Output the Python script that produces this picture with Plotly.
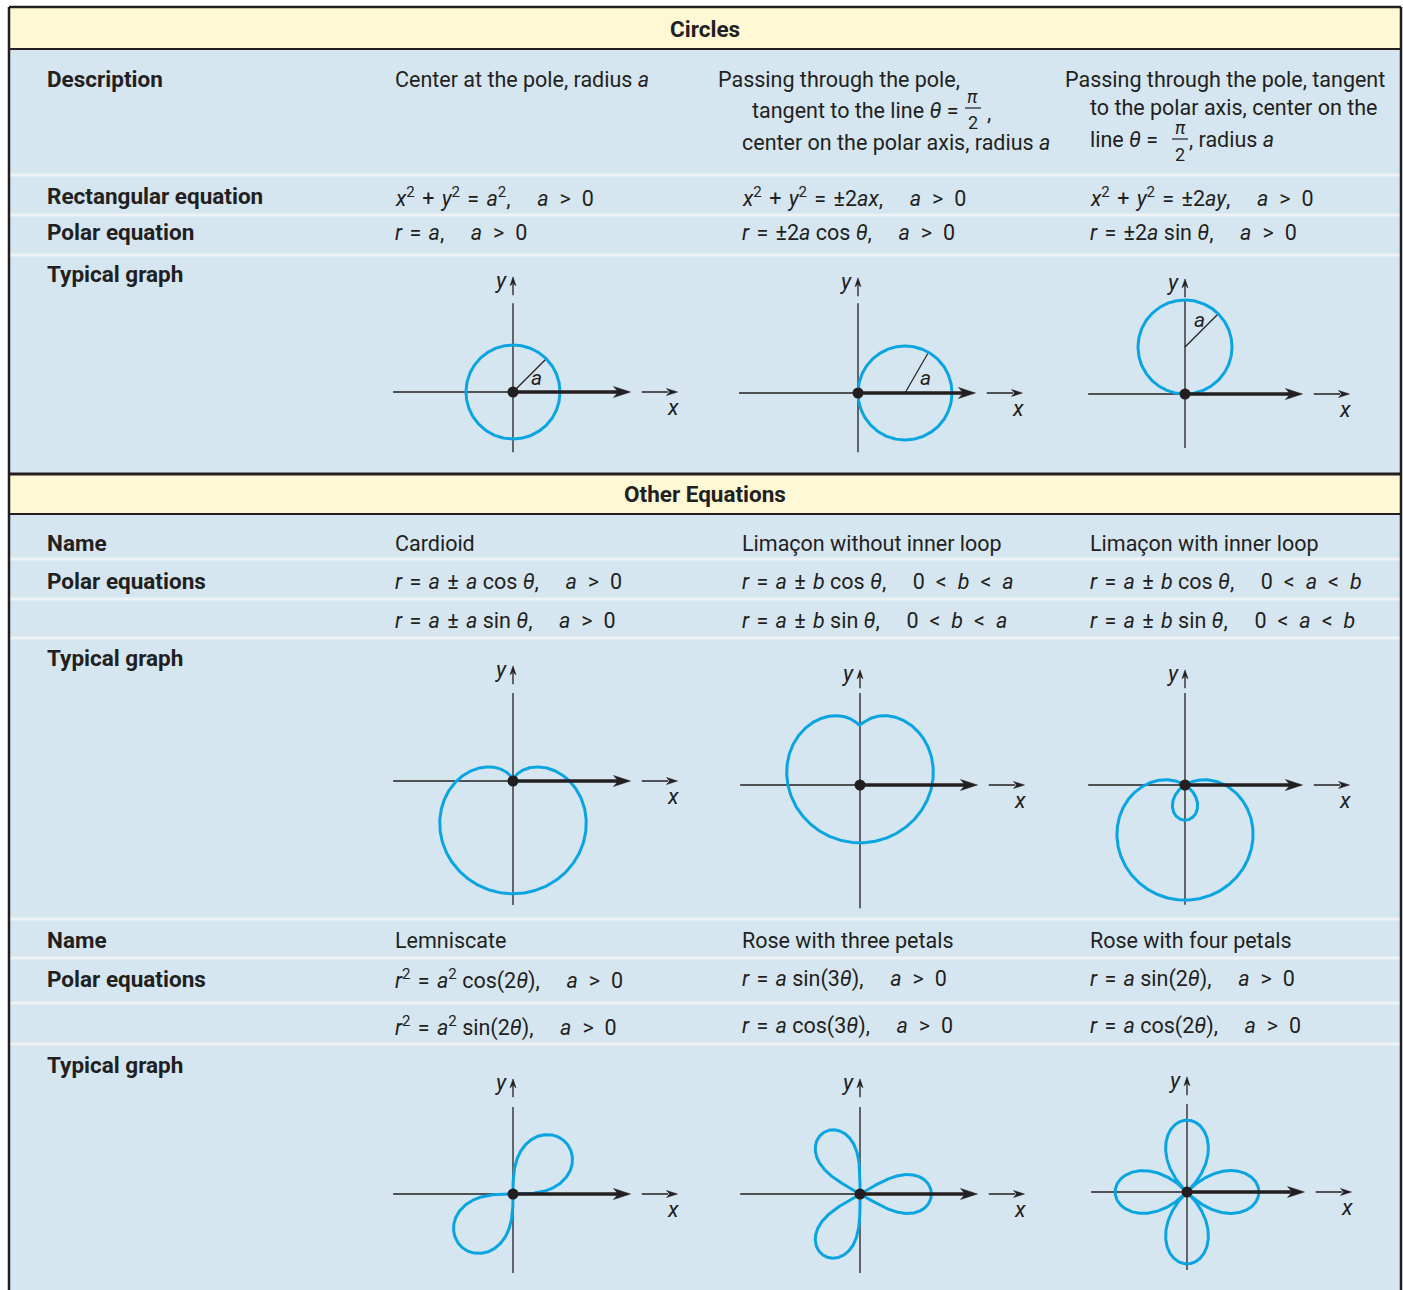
import numpy as np
import plotly.graph_objects as go

W, H = 1403, 1290
FONT = "Roboto"
TXT = "#231f20"
BLUE_BG = "#d5e6f0"
YELLOW = "#fef8d5"
SEP = "#eef2f4"
CURVE = "#0aa5e1"
S = 47.0          # pixels per graph unit
NB = "\u00a0"
GAP = NB * 5
T = "\u2004"      # small math space
E = "\u2002"      # wider math space
TS, BS = 21.5, 22.5

# ------------------------------------------------------------------ data
section_titles = ["Circles", "Other Equations"]
circle_labels = ["Description", "Rectangular equation", "Polar equation", "Typical graph"]
other_labels = ["Name", "Polar equations", "Typical graph"]

desc_col1 = "Center at the pole, radius <i>a</i>"
desc_col2 = ["Passing through the pole,", "tangent to the line <i>θ</i> =", "center on the polar axis, radius <i>a</i>"]
desc_col3 = ["Passing through the pole, tangent", "to the polar axis, center on the", "line <i>θ</i> =", ", radius <i>a</i>"]

A = "<i>a</i>"
B = "<i>b</i>"
R = "<i>r</i>"
TH = "<i>θ</i>"
POS = A + E + "&gt;" + E + "0"
rect_eqs = [
    "<i>x</i><sup>2</sup>" + T + "+" + T + "<i>y</i><sup>2</sup>" + T + "=" + T + A + "<sup>2</sup>," + GAP + POS,
    "<i>x</i><sup>2</sup>" + T + "+" + T + "<i>y</i><sup>2</sup>" + T + "=" + T + "±2<i>ax</i>," + GAP + POS,
    "<i>x</i><sup>2</sup>" + T + "+" + T + "<i>y</i><sup>2</sup>" + T + "=" + T + "±2<i>ay</i>," + GAP + POS,
]
circle_polar_eqs = [
    R + T + "=" + T + A + "," + GAP + POS,
    R + T + "=" + T + "±2" + A + " cos " + TH + "," + GAP + POS,
    R + T + "=" + T + "±2" + A + " sin " + TH + "," + GAP + POS,
]
BA = "0" + E + "&lt;" + E + B + E + "&lt;" + E + A
AB = "0" + E + "&lt;" + E + A + E + "&lt;" + E + B
names_row1 = ["Cardioid", "Limaçon without inner loop", "Limaçon with inner loop"]
eqs_row1_a = [
    R + T + "=" + T + A + T + "±" + T + A + " cos " + TH + "," + GAP + POS,
    R + T + "=" + T + A + T + "±" + T + B + " cos " + TH + "," + GAP + BA,
    R + T + "=" + T + A + T + "±" + T + B + " cos " + TH + "," + GAP + AB,
]
eqs_row1_b = [
    R + T + "=" + T + A + T + "±" + T + A + " sin " + TH + "," + GAP + POS,
    R + T + "=" + T + A + T + "±" + T + B + " sin " + TH + "," + GAP + BA,
    R + T + "=" + T + A + T + "±" + T + B + " sin " + TH + "," + GAP + AB,
]
names_row2 = ["Lemniscate", "Rose with three petals", "Rose with four petals"]
eqs_row2_a = [
    R + "<sup>2</sup>" + T + "=" + T + A + "<sup>2</sup> cos(2" + TH + ")," + GAP + POS,
    R + T + "=" + T + A + " sin(3" + TH + ")," + GAP + POS,
    R + T + "=" + T + A + " sin(2" + TH + ")," + GAP + POS,
]
eqs_row2_b = [
    R + "<sup>2</sup>" + T + "=" + T + A + "<sup>2</sup> sin(2" + TH + ")," + GAP + POS,
    R + T + "=" + T + A + " cos(3" + TH + ")," + GAP + POS,
    R + T + "=" + T + A + " cos(2" + TH + ")," + GAP + POS,
]

# graph curves (units: a of the circles = 1)
curve_kind = ["circle0", "circle_cos", "circle_sin", "cardioid", "limacon", "limacon",
              "lemniscate", "rose3", "rose4"]
curve_a = [1.0, 1.0, 1.0, 1.2, 1.25, 0.85, 1.57, 1.52, 1.53]
curve_b = [0.0, 0.0, 0.0, 0.0, 1.1, 1.6, 0.0, 0.0, 0.0]
curve_shift = [0.0, 0.0, 0.0, 0.0, 1.12, 0.0, 0.0, 0.0, 0.0]
petal_fullness = [1, 1, 1, 1, 1, 1, 1, 0.35, 0.8]   # drawn petal roundness

# radius marks on circle graphs: centre, angle (deg), label position
radius_center = [(0, 0), (1, 0), (0, 1)]
radius_angle = [45, 60, 45]
radius_label = [(0.5, 0.3), (1.43, 0.32), (0.3, 1.57)]

# ------------------------------------------------------------------ layout params
graph_origin_px = [(513, 392), (858, 393), (1185, 394),
                   (513, 781), (860, 785), (1185, 785),
                   (513, 1194), (860, 1194), (1187, 1192)]
h_left = [-2.55, -2.53, -2.06, -2.55, -2.55, -2.06, -2.55, -2.55, -2.04]
v_top = [1.89, 1.91, 2.0, 1.87, 1.96, 1.96, 1.85, 1.85, 1.87]
v_bot = [-1.28, -1.26, -1.15, -2.64, -2.62, -2.55, -1.68, -1.68, -1.66]
X_TIP = 2.5
XR = [-2.7, 3.75]
Y_HI = 2.65


def X(p):
    return p / W


def Y(p):
    return 1 - p / H


def curve_xy(kind, a, b, shift, p):
    if kind == "circle0":
        t = np.linspace(0, 2 * np.pi, 400); r = a * np.ones_like(t)
    elif kind == "circle_cos":
        t = np.linspace(0, np.pi, 400); r = 2 * a * np.cos(t)
    elif kind == "circle_sin":
        t = np.linspace(0, np.pi, 400); r = 2 * a * np.sin(t)
    elif kind == "cardioid":
        t = np.linspace(0, 2 * np.pi, 600); r = a * (1 - np.sin(t))
    elif kind == "limacon":
        t = np.linspace(0, 2 * np.pi, 800); r = a - b * np.sin(t)
    elif kind == "lemniscate":
        t = np.linspace(0, np.pi / 2, 400)
        r = a * np.sqrt(np.clip(np.sin(2 * t), 0, None))
        x = np.concatenate([r * np.cos(t), [np.nan], -r * np.cos(t)])
        y = np.concatenate([r * np.sin(t), [np.nan], -r * np.sin(t)])
        return x, y + shift
    elif kind == "rose3":
        t = np.linspace(0, np.pi, 1200); c = np.cos(3 * t)
        r = a * np.sign(c) * np.abs(c) ** p
    else:
        t = np.linspace(0, 2 * np.pi, 1200); c = np.cos(2 * t)
        r = a * np.sign(c) * np.abs(c) ** p
    return r * np.cos(t), r * np.sin(t) + shift


def head(tx, ty, dx, dy, L, Wd):
    px_, py_ = -dy, dx
    bx, by = tx - L * dx, ty - L * dy
    nx, ny = tx - 0.72 * L * dx, ty - 0.72 * L * dy
    xs = [tx, bx + Wd / 2 * px_, nx, bx - Wd / 2 * px_, tx]
    ys = [ty, by + Wd / 2 * py_, ny, by - Wd / 2 * py_, ty]
    return xs, ys


fig = go.Figure()
shapes = []
ann = []
layout_axes = {}


def text(t, x, y, size=TS, anchor="left", ref=None):
    d = dict(text=t, x=X(x) if ref is None else x, y=Y(y) if ref is None else y,
             xref="paper" if ref is None else ref[0], yref="paper" if ref is None else ref[1],
             xanchor=anchor, yanchor="middle", showarrow=False,
             font=dict(family=FONT, size=size, color=TXT))
    ann.append(d)


# ---- backgrounds
LEFT, RIGHT, TOP = 9, 1401, 7
for (y0, y1, c) in [(TOP, 49, YELLOW), (49, 474, BLUE_BG), (474, 514, YELLOW), (514, H + 5, BLUE_BG)]:
    shapes.append(dict(type="rect", xref="paper", yref="paper", x0=X(LEFT), x1=X(RIGHT),
                       y0=Y(y1), y1=Y(y0), fillcolor=c, line=dict(width=0), layer="below"))
for ys in [175, 215, 255, 559, 599, 638, 919, 958, 1003, 1044]:
    shapes.append(dict(type="line", xref="paper", yref="paper", x0=X(LEFT + 1), x1=X(RIGHT - 1),
                       y0=Y(ys), y1=Y(ys), line=dict(color=SEP, width=3), layer="below"))
for (x0, y0, x1, y1, w) in [(LEFT, TOP, RIGHT, TOP, 2.5), (LEFT, TOP, LEFT, H + 5, 2.5),
                            (RIGHT, TOP, RIGHT, H + 5, 2.5), (LEFT, 49, RIGHT, 49, 2),
                            (LEFT, 474, RIGHT, 474, 3), (LEFT, 514, RIGHT, 514, 2)]:
    shapes.append(dict(type="line", xref="paper", yref="paper", x0=X(x0), x1=X(x1),
                       y0=Y(y0), y1=Y(y1), line=dict(color=TXT, width=w)))

# ---- table text
text("<b>" + section_titles[0] + "</b>", 705, 29, size=BS, anchor="center")
text("<b>" + section_titles[1] + "</b>", 705, 494, size=BS, anchor="center")
for lab, y in zip(circle_labels, [79, 196, 232, 274]):
    text("<b>" + lab + "</b>", 45, y, size=BS)
text(desc_col1, 393, 79)
text(desc_col2[0], 716, 79)
text(desc_col2[1], 960, 110, anchor="right")
text(desc_col2[2], 740, 142)
text(desc_col3[0], 1063, 79)
text(desc_col3[1], 1088, 108)
text(desc_col3[2], 1088, 140)
text(desc_col3[3], 1187, 140)
# fractions pi/2
for (fx, fy) in [(973, 109), (1180, 140)]:
    text("<i>π</i>", fx, fy - 13, size=18, anchor="center")
    text("2", fx, fy + 14, size=18, anchor="center")
    shapes.append(dict(type="line", xref="paper", yref="paper", x0=X(fx - 8), x1=X(fx + 8),
                       y0=Y(fy - 1), y1=Y(fy - 1), line=dict(color=TXT, width=1.2)))
text(",", 985, 112)

cols = [393, 740, 1088]
for c, t in zip(cols, rect_eqs):
    text(t, c, 197)
for c, t in zip(cols, circle_polar_eqs):
    text(t, c, 232)
for lab, y in zip(other_labels, [543, 581, 658]):
    text("<b>" + lab + "</b>", 45, y, size=BS)
for lab, y in zip(other_labels, [940, 979, 1065]):
    text("<b>" + lab + "</b>", 45, y, size=BS)
for c, t in zip(cols, names_row1):
    text(t, c, 543)
for c, t in zip(cols, eqs_row1_a):
    text(t, c, 581)
for c, t in zip(cols, eqs_row1_b):
    text(t, c, 620)
for c, t in zip(cols, names_row2):
    text(t, c, 940)
for c, t in zip(cols, eqs_row2_a):
    text(t, c, 979)
for c, t in zip(cols, eqs_row2_b):
    text(t, c, 1026)

# ---- graphs
for i in range(9):
    k = i + 1
    sfx = "" if k == 1 else str(k)
    xa, ya = "x" + sfx, "y" + sfx
    ox, oy = graph_origin_px[i]
    ylo = v_bot[i] - 0.12
    layout_axes["xaxis" + sfx] = dict(domain=[X(ox + XR[0] * S), X(ox + XR[1] * S)], range=XR,
                                      visible=False, fixedrange=True, anchor=ya)
    layout_axes["yaxis" + sfx] = dict(domain=[Y(oy - ylo * S), Y(oy - Y_HI * S)], range=[ylo, Y_HI],
                                      visible=False, fixedrange=True, anchor=xa)
    common = dict(xaxis=xa, yaxis=ya, showlegend=False, hoverinfo="skip")
    thin = dict(color=TXT, width=1.3)
    # thin axes
    fig.add_trace(go.Scatter(x=[h_left[i], 0], y=[0, 0], mode="lines", line=thin, **common))
    fig.add_trace(go.Scatter(x=[0, 0], y=[v_bot[i], v_top[i]], mode="lines", line=thin, **common))
    # small x arrow
    fig.add_trace(go.Scatter(x=[2.74, 3.3], y=[0, 0], mode="lines", line=thin, **common))
    hx, hy = head(3.5, 0, 1, 0, 11 / S, 7 / S)
    fig.add_trace(go.Scatter(x=hx, y=hy, mode="lines", fill="toself", fillcolor=TXT,
                             line=dict(color=TXT, width=0.5), **common))
    # y arrow
    fig.add_trace(go.Scatter(x=[0, 0], y=[2.06, 2.3], mode="lines", line=thin, **common))
    hx, hy = head(0, 2.45, 0, 1, 9 / S, 6 / S)
    fig.add_trace(go.Scatter(x=hx, y=hy, mode="lines", fill="toself", fillcolor=TXT,
                             line=dict(color=TXT, width=0.5), **common))
    # radius marks
    if i < 3:
        cx, cy = radius_center[i]
        ang = np.deg2rad(radius_angle[i])
        fig.add_trace(go.Scatter(x=[cx, cx + 0.97 * np.cos(ang)], y=[cy, cy + 0.97 * np.sin(ang)],
                                 mode="lines", line=dict(color=TXT, width=1.2), **common))
        text("<i>a</i>", radius_label[i][0], radius_label[i][1], size=21, anchor="center", ref=(xa, ya))
    # curve
    cxs, cys = curve_xy(curve_kind[i], curve_a[i], curve_b[i], curve_shift[i], petal_fullness[i])
    fig.add_trace(go.Scatter(x=cxs, y=cys, mode="lines", line=dict(color=CURVE, width=3), **common))
    # thick polar axis
    L = 17 / S
    fig.add_trace(go.Scatter(x=[0, X_TIP - 0.7 * L], y=[0, 0], mode="lines",
                             line=dict(color=TXT, width=3.6), **common))
    hx, hy = head(X_TIP, 0, 1, 0, L, 11 / S)
    fig.add_trace(go.Scatter(x=hx, y=hy, mode="lines", fill="toself", fillcolor=TXT,
                             line=dict(color=TXT, width=0.5), **common))
    # pole
    fig.add_trace(go.Scatter(x=[0], y=[0], mode="markers", marker=dict(size=11, color=TXT), **common))
    # axis labels
    text("<i>x</i>", 3.4, -0.34, size=22, anchor="center", ref=(xa, ya))
    text("<i>y</i>", -0.25, 2.38, size=22, anchor="center", ref=(xa, ya))

fig.update_layout(width=W, height=H, margin=dict(l=0, r=0, t=0, b=0),
                  paper_bgcolor="white", plot_bgcolor="rgba(0,0,0,0)",
                  shapes=shapes, annotations=ann, **layout_axes,
                  font=dict(family=FONT, color=TXT))
fig.write_html("out.html", config={"displayModeBar": False},
               post_script="document.body.style.margin='0px';document.body.style.padding='0px';")
